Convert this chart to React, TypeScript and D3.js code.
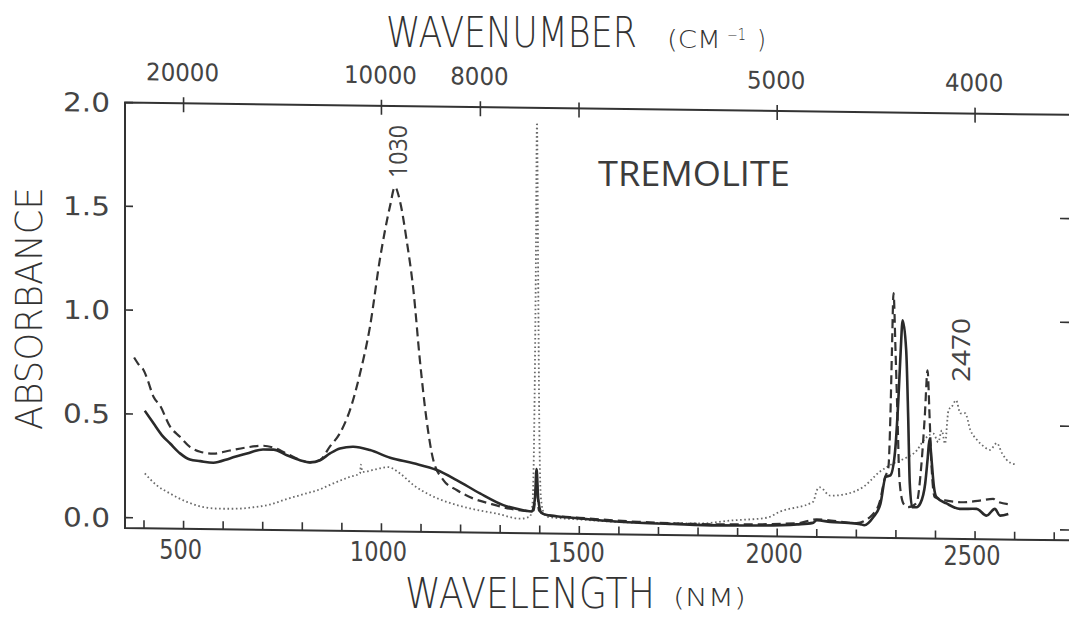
import React, { useEffect, useRef } from "react";
import * as d3 from "d3";

// solid curve
const solidNm = [402, 424, 445, 466, 491, 516, 542, 575, 617, 660, 701, 727, 761, 794, 819, 845, 870, 895, 929, 971, 1022, 1081, 1140, 1190, 1249, 1308, 1358, 1380, 1388, 1392, 1396, 1404, 1418, 1500, 1567, 1650, 1736, 1850, 1950, 2050, 2090, 2100, 2134, 2180, 2210, 2220, 2243, 2261, 2274, 2286, 2298, 2306, 2312, 2317, 2326, 2331, 2335, 2341, 2352, 2362, 2374, 2380, 2385, 2390, 2396, 2402, 2428, 2461, 2504, 2529, 2550, 2563, 2584];
const solidAbs = [0.516, 0.456, 0.4, 0.36, 0.313, 0.284, 0.277, 0.27, 0.292, 0.317, 0.337, 0.337, 0.311, 0.288, 0.278, 0.289, 0.322, 0.347, 0.356, 0.341, 0.305, 0.28, 0.249, 0.202, 0.139, 0.084, 0.061, 0.055, 0.12, 0.26, 0.12, 0.05, 0.039, 0.025, 0.015, 0.008, 0.004, 0.0, 0.002, 0.01, 0.018, 0.031, 0.024, 0.02, 0.015, 0.01, 0.05, 0.115, 0.244, 0.252, 0.37, 0.61, 0.85, 1.0, 0.855, 0.535, 0.215, 0.1, 0.1, 0.12, 0.215, 0.33, 0.43, 0.33, 0.2, 0.151, 0.12, 0.095, 0.096, 0.064, 0.097, 0.065, 0.073];

// dashed curve
const dashedNm = [375, 390, 398, 402, 410, 424, 440, 466, 491, 516, 542, 575, 617, 660, 701, 727, 761, 794, 819, 845, 870, 895, 920, 946, 971, 996, 1022, 1034, 1047, 1064, 1081, 1097, 1114, 1131, 1157, 1190, 1232, 1275, 1325, 1367, 1385, 1392, 1398, 1418, 1500, 1650, 1850, 2050, 2100, 2200, 2240, 2260, 2272, 2281, 2286, 2290, 2294, 2299, 2304, 2309, 2319, 2331, 2352, 2364, 2373, 2380, 2385, 2390, 2398, 2428, 2470, 2512, 2546, 2554, 2584];
const dashedAbs = [0.772, 0.73, 0.715, 0.7, 0.66, 0.584, 0.544, 0.441, 0.393, 0.345, 0.322, 0.314, 0.33, 0.346, 0.355, 0.347, 0.318, 0.29, 0.278, 0.29, 0.356, 0.42, 0.53, 0.71, 0.935, 1.26, 1.52, 1.61, 1.54, 1.35, 1.11, 0.78, 0.49, 0.297, 0.2, 0.154, 0.114, 0.09, 0.067, 0.057, 0.06, 0.2, 0.06, 0.04, 0.028, 0.012, 0.005, 0.015, 0.035, 0.02, 0.06, 0.13, 0.24, 0.29, 0.534, 0.855, 1.13, 0.855, 0.534, 0.229, 0.117, 0.1, 0.12, 0.297, 0.54, 0.76, 0.54, 0.3, 0.15, 0.134, 0.127, 0.136, 0.145, 0.135, 0.12];

// dotted curve
const dottedNm = [402, 432, 466, 508, 550, 592, 634, 676, 718, 761, 803, 845, 870, 921, 946, 948, 952, 988, 1017, 1047, 1081, 1123, 1165, 1224, 1291, 1350, 1375, 1382, 1386, 1390, 1393, 1396, 1399, 1403, 1410, 1420, 1500, 1650, 1805, 1881, 1974, 2007, 2091, 2100, 2108, 2134, 2176, 2218, 2260, 2294, 2328, 2353, 2369, 2395, 2407, 2416, 2424, 2433, 2441, 2452, 2463, 2475, 2488, 2505, 2522, 2538, 2555, 2568, 2589, 2605];
const dottedAbs = [0.214, 0.158, 0.119, 0.08, 0.056, 0.049, 0.05, 0.058, 0.072, 0.1, 0.124, 0.149, 0.171, 0.211, 0.228, 0.27, 0.235, 0.25, 0.26, 0.23, 0.175, 0.128, 0.096, 0.066, 0.043, 0.02, 0.03, 0.1, 0.45, 1.2, 1.93, 1.2, 0.45, 0.12, 0.05, 0.03, 0.02, 0.008, 0.008, 0.024, 0.04, 0.07, 0.12, 0.175, 0.19, 0.15, 0.16, 0.195, 0.27, 0.31, 0.34, 0.374, 0.42, 0.455, 0.415, 0.472, 0.408, 0.57, 0.586, 0.618, 0.555, 0.556, 0.476, 0.428, 0.397, 0.381, 0.414, 0.366, 0.32, 0.312];

const nmTicks = d3.range(400, 2800, 100);
const nmLabels = [500, 1000, 1500, 2000, 2500];
const wnTicks = [20000, 10000, 8000, 6670, 5000, 4000];
const wnLabels = ["20000", "10000", "8000", "", "5000", "4000"];
const absTicks = [0, 0.5, 1.0, 1.5, 2.0];
const absLabels = ["0.0", "0.5", "1.0", "1.5", "2.0"];
const rightTicks = [0, 0.5, 1.0, 1.5];

const plotter = "'DejaVu Sans', sans-serif";
const sans = "'Open Sans', 'Liberation Sans', Arial, sans-serif";
const ink = "#333";

// squeeze a text to a given width with a transform, so its box stays honest
function fit(sel, tx, ty, len, rotate = false) {
  sel.attr("x", 0).attr("y", 0);
  const w = sel.node().getComputedTextLength() || len;
  const sx = len / w;
  sel.attr("transform", `translate(${tx},${ty})${rotate ? " rotate(-90)" : ""} scale(${sx},1)`);
}

export default function App() {
  const ref = useRef(null);

  useEffect(() => {
    const W = 1069, H = 621;
    const left = 125, right = 1074, top = 102.5, bottom = 528;

    const x = d3.scaleLinear().domain([352, 2750]).range([left, right]);
    const y = d3.scaleLinear().domain([-0.05, 2.0]).range([bottom, top]);

    const svg = d3.select(ref.current);
    svg.selectAll("*").remove();
    svg.attr("width", W).attr("height", H);
    svg.append("rect").attr("width", W).attr("height", H).attr("fill", "#fff");

    // the scanned figure is slightly skewed
    const t = Math.tan((0.75 * Math.PI) / 180);
    const g = svg.append("g").attr("transform", `translate(0,${-left * t}) skewY(0.75)`);

    // frame
    g.append("path")
      .attr("d", `M${right},${top}H${left}V${bottom}H${right}`)
      .attr("fill", "none").attr("stroke", ink).attr("stroke-width", 2);

    // bottom ticks
    g.selectAll(".bt").data(nmTicks).enter().append("line")
      .attr("x1", d => x(d)).attr("x2", d => x(d))
      .attr("y1", bottom).attr("y2", bottom - 8)
      .attr("stroke", ink).attr("stroke-width", 1.6);

    nmLabels.forEach(d => {
      const s = svg.append("text")
        .attr("text-anchor", "middle")
        .attr("font-family", plotter).attr("font-size", 27)
        .attr("fill", "#444")
        .text(d);
      const lx = x(d) - 3;
      fit(s, lx, 559 + (lx - left) * t * 0.5, String(d).length * 14.3);
    });

    // top ticks (wavenumber)
    g.selectAll(".tt").data(wnTicks).enter().append("line")
      .attr("x1", d => x(1e7 / d)).attr("x2", d => x(1e7 / d))
      .attr("y1", top - 6).attr("y2", top + 9)
      .attr("stroke", ink).attr("stroke-width", 1.6);

    wnTicks.forEach((d, i) => {
      if (!wnLabels[i]) return;
      const s = g.append("text")
        .attr("text-anchor", "middle")
        .attr("font-family", plotter).attr("font-size", 24)
        .attr("fill", "#444")
        .text(wnLabels[i]);
      fit(s, x(1e7 / d) - 1, 80, wnLabels[i].length * 14.6);
    });

    // left ticks
    g.selectAll(".lt").data(absTicks).enter().append("line")
      .attr("x1", left).attr("x2", left + 8)
      .attr("y1", d => y(d)).attr("y2", d => y(d))
      .attr("stroke", ink).attr("stroke-width", 1.6);

    absTicks.forEach((d, i) => {
      const s = g.append("text")
        .attr("text-anchor", "end")
        .attr("font-family", plotter).attr("font-size", 26)
        .attr("fill", "#444")
        .text(absLabels[i]);
      fit(s, 110, y(d) + 9.5, 47);
    });

    // right ticks
    g.selectAll(".rt").data(rightTicks).enter().append("line")
      .attr("x1", right).attr("x2", right - 14)
      .attr("y1", d => y(d)).attr("y2", d => y(d))
      .attr("stroke", ink).attr("stroke-width", 1.6);

    // curves
    const line = d3.line().x(d => x(d[0])).y(d => y(d[1])).curve(d3.curveMonotoneX);
    const series = [
      { nm: dottedNm, abs: dottedAbs, color: "#6a6a6a", width: 1.8, dash: "1.6,2.6" },
      { nm: dashedNm, abs: dashedAbs, color: "#333", width: 2.2, dash: "9,5" },
      { nm: solidNm, abs: solidAbs, color: "#2a2a2a", width: 2.6, dash: null },
    ];
    series.forEach(s => {
      g.append("path")
        .datum(s.nm.map((v, i) => [v, s.abs[i]]))
        .attr("d", line)
        .attr("fill", "none")
        .attr("stroke", s.color)
        .attr("stroke-width", s.width)
        .attr("stroke-dasharray", s.dash);
    });

    // axis titles and annotations (image coordinates)
    const txt = (tx, ty, str, size, len, opts = {}) => {
      const s = svg.append("text")
        .attr("font-family", opts.family || plotter)
        .attr("font-size", size)
        .attr("font-weight", opts.weight || 200)
        .attr("fill", opts.fill || ink)
        .text(str);
      fit(s, tx, ty, len, opts.rotate);
    };

    txt(386, 46.5, "WAVENUMBER", 43, 251);
    txt(667, 48, "(CM", 24, 54);
    txt(727, 39.5, "\u22121", 15, 19);
    txt(757, 48, ")", 24, 9);

    txt(405, 608, "WAVELENGTH", 42, 250);
    txt(673, 606, "(NM)", 24, 73);

    txt(42, 430, "ABSORBANCE", 38, 243, { rotate: true });

    txt(598, 186, "TREMOLITE", 35, 192, { family: sans, weight: 400, fill: "#3c3c3c" });
    txt(407, 178, "1030", 25, 53, { family: sans, weight: 400, fill: "#444", rotate: true });
    txt(970, 382, "2470", 25, 64, { family: sans, weight: 400, fill: "#444", rotate: true });
  }, []);

  return (
    <svg ref={ref} style={{ position: "absolute", left: 0, top: 0, background: "#fff" }} />
  );
}
